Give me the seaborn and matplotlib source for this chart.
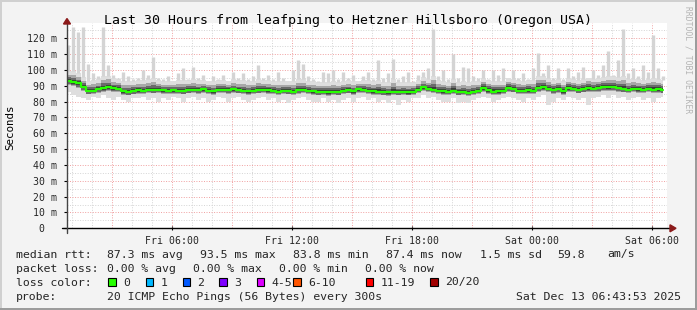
import numpy as np
import pandas as pd
import matplotlib
matplotlib.use("Agg")
import matplotlib.pyplot as plt
import matplotlib.dates as mdates
from matplotlib.patches import Rectangle, Polygon
from matplotlib.lines import Line2D
import seaborn as sns

# ---------------- data ----------------
title = "Last 30 Hours from leafping to Hetzner Hillsboro (Oregon USA)"
start_time = "2025-12-12 00:48"          # first 15-min bin centre
x_start = "2025-12-12 00:43:53"
x_end = "2025-12-13 06:43:53"

median_ms = [93.3, 92.5, 91.6, 89.5, 86.8, 87.0, 88.1, 88.6, 89.1, 88.5,
             88.3, 86.5, 86.0, 86.8, 87.2, 87.0, 87.6, 87.4, 87.5, 87.2,
             86.9, 87.2, 87.0, 86.8, 87.5, 87.6, 87.3, 87.8, 86.8, 86.5,
             87.5, 87.6, 87.3, 87.8, 87.4, 87.0, 86.5, 87.0, 87.4, 87.6,
             87.2, 86.8, 86.4, 87.0, 86.8, 86.2, 87.3, 87.6, 87.0, 86.5,
             86.0, 86.2, 85.8, 86.4, 86.0, 86.8, 87.4, 86.5, 87.8, 87.5,
             87.0, 86.6, 86.2, 86.0, 85.8, 86.3, 86.0, 86.4, 85.9, 86.2,
             87.5, 89.0, 88.2, 87.5, 87.0, 86.6, 86.2, 86.8, 86.0, 86.4,
             85.6, 86.2, 86.8, 88.5, 87.2, 86.4, 86.6, 86.8, 88.6, 88.0,
             87.0, 86.8, 87.2, 87.0, 88.6, 89.2, 88.2, 87.6, 88.0, 86.5,
             88.6, 88.2, 87.4, 88.0, 88.5, 88.2, 88.8, 89.3, 89.0, 89.4,
             88.6, 88.0, 87.6, 88.2, 87.8, 87.5, 88.2, 87.6, 87.9, 87.4]

max_ms = [116, 127, 124, 127, 104, 98, 96, 127, 103, 97,
          95, 99, 96, 94, 95, 100, 97, 108, 95, 94,
          96, 93, 98, 101, 94, 102, 95, 97, 93, 96,
          94, 97, 93, 99, 95, 98, 94, 96, 103, 95,
          97, 94, 99, 95, 93, 100, 106, 104, 96, 94,
          93, 99, 98, 100, 94, 99, 95, 97, 93, 96,
          99, 94, 106, 95, 98, 107, 94, 96, 99, 93,
          97, 99, 101, 126, 96, 100, 94, 110, 95, 102,
          101, 96, 95, 100, 94, 100, 97, 101, 95, 100,
          95, 98, 94, 101, 111, 98, 103, 95, 101, 94,
          101, 96, 99, 102, 95, 100, 97, 103, 112, 97,
          106, 126, 98, 101, 96, 103, 99, 122, 101, 96]

min_ms = [86, 84, 83, 82, 81, 83, 82, 84, 82, 81,
          83, 81, 80, 82, 82, 83, 81, 82, 80, 82,
          81, 83, 82, 80, 82, 83, 81, 82, 80, 81,
          83, 82, 80, 82, 83, 81, 80, 81, 82, 83,
          81, 82, 80, 81, 79, 81, 82, 83, 81, 80,
          80, 82, 80, 81, 79, 81, 82, 80, 82, 83,
          81, 82, 80, 81, 79, 81, 78, 81, 80, 82,
          82, 84, 82, 83, 81, 80, 80, 82, 79, 80,
          79, 81, 82, 83, 82, 80, 81, 82, 83, 82,
          81, 80, 82, 81, 83, 84, 78, 80, 82, 81,
          83, 82, 81, 82, 78, 82, 83, 84, 82, 84,
          82, 83, 81, 82, 83, 81, 82, 80, 82, 83]

q25_ms = [90.5, 89.8, 88.6, 86.9, 84.6, 84.8, 85.7, 86.0, 86.5, 86.1,
          85.8, 84.3, 83.9, 84.6, 85.0, 84.9, 85.3, 85.2, 85.3, 85.0,
          84.8, 85.0, 84.8, 84.6, 85.2, 85.3, 85.1, 85.5, 84.7, 84.4,
          85.3, 85.4, 85.1, 85.5, 85.2, 84.9, 84.4, 84.8, 85.2, 85.4,
          85.0, 84.7, 84.3, 84.8, 84.6, 84.1, 85.1, 85.4, 84.9, 84.4,
          84.0, 84.1, 83.8, 84.3, 84.0, 84.7, 85.2, 84.4, 85.5, 85.3,
          84.9, 84.5, 84.1, 84.0, 83.8, 84.2, 83.9, 84.3, 83.9, 84.1,
          85.3, 86.6, 85.9, 85.3, 84.9, 84.5, 84.1, 84.7, 83.9, 84.3,
          83.6, 84.1, 84.7, 86.2, 85.0, 84.3, 84.5, 84.7, 86.3, 85.8,
          84.9, 84.7, 85.0, 84.9, 86.3, 86.8, 85.9, 85.0, 85.7, 84.3,
          86.2, 85.9, 85.2, 85.8, 86.0, 85.9, 86.4, 86.9, 86.7, 87.0,
          86.3, 85.8, 85.4, 85.9, 85.6, 85.3, 85.9, 85.4, 85.7, 85.2]

q75_ms = [97.0, 96.8, 95.5, 93.0, 90.8, 91.0, 91.6, 93.5, 94.0, 92.3,
          92.0, 90.4, 90.5, 90.6, 90.9, 91.2, 91.5, 92.4, 91.2, 90.8,
          90.6, 90.8, 91.0, 91.2, 91.0, 91.8, 90.9, 91.4, 90.4, 90.4,
          91.0, 91.2, 90.8, 91.5, 91.0, 91.2, 90.4, 90.6, 92.0, 91.4,
          90.9, 90.5, 90.4, 90.8, 90.6, 90.5, 92.0, 91.8, 90.8, 90.3,
          89.9, 90.2, 90.0, 90.6, 90.0, 90.6, 91.0, 90.4, 91.4, 91.2,
          91.0, 90.4, 91.4, 89.9, 89.8, 91.5, 89.8, 90.2, 89.8, 90.1,
          91.3, 92.8, 92.0, 93.5, 90.9, 90.6, 90.0, 92.0, 89.8, 90.6,
          89.6, 90.4, 90.7, 92.4, 91.3, 90.8, 90.6, 90.8, 92.4, 91.9,
          90.9, 90.6, 91.2, 91.0, 93.6, 93.5, 92.2, 91.4, 92.0, 90.6,
          92.4, 92.0, 91.3, 92.0, 92.8, 92.1, 92.6, 93.0, 93.6, 93.5,
          92.8, 93.4, 91.8, 92.1, 91.7, 91.4, 92.0, 92.4, 91.8, 91.3]

y_ticks = [0, 10, 20, 30, 40, 50, 60, 70, 80, 90, 100, 110, 120]
y_tick_labels = ["0  "] + [f"{v} m" for v in y_ticks[1:]]

rtt_items = ["87.3 ms avg", "93.5 ms max", "83.8 ms min", "87.4 ms now",
             "1.5 ms sd", "59.8", "am/s"]
loss_items = ["0.00 % avg", "0.00 % max", "0.00 % min", "0.00 % now"]
loss_labels = ["0", "1", "2", "3", "4-5", "6-10", "11-19", "20/20"]
loss_colors = ["#26ff00", "#00b8ff", "#0059ff", "#7e00ff", "#dd00ff",
               "#ff5500", "#ff0000", "#a10000"]
probe_text = "20 ICMP Echo Pings (56 Bytes) every 300s"
stamp_text = "Sat Dec 13 06:43:53 2025"

# ---------------- figure ----------------
sns.set_theme(style="white")
plt.rcParams["font.family"] = ["DejaVu Sans Mono", "DejaVu Sans"]

W, H = 697, 310
fig = plt.figure(figsize=(W / 100, H / 100), dpi=100, facecolor="#f3f3f3")


def fx(px):
    return px / W


def fy(py):
    return 1 - py / H


AX_L, AX_R, AX_B, AX_T = 67, 667, 228.3, 22.5
ax = fig.add_axes([fx(AX_L), fy(AX_B), (AX_R - AX_L) / W, (AX_B - AX_T) / H])
ax.set_facecolor("white")

times = pd.date_range(start_time, periods=len(median_ms), freq="15min")
df = pd.DataFrame({"time": times, "median": median_ms, "lo": min_ms,
                   "q25": q25_ms, "q75": q75_ms, "hi": max_ms})

ax.set_xlim(pd.Timestamp(x_start), pd.Timestamp(x_end))
ax.set_ylim(0, 130)

# grid (drawn under the smoke)
hours = pd.date_range("2025-12-12 01:00", "2025-12-13 06:00", freq="1h")
for h in hours:
    red = (h.hour % 3 == 0)
    ax.axvline(h, color="#f0a0a0" if red else "#d4d4d4", lw=0.7,
               ls=(0, (1, 1.6)), zorder=1)
for v in range(5, 130, 5):
    red = (v % 10 == 0)
    ax.axhline(v, color="#f0a0a0" if red else "#d4d4d4", lw=0.7,
               ls=(0, (1, 1.6)), zorder=1)

# smoke
lo = df["lo"].to_numpy(float)
hi = df["hi"].to_numpy(float)
med = df["median"].to_numpy()
q25 = df["q25"].to_numpy()
q75 = df["q75"].to_numpy()
base_top = np.minimum(hi, q75 + 2.5)
ax.fill_between(df["time"], lo, base_top, step="mid",
                color="#dedede", lw=0, zorder=2)
ax.vlines(df["time"], base_top, hi, colors="#d4d4d4", lw=2.4, zorder=2)
ax.fill_between(df["time"], q25, q75, step="mid",
                color="#a8a8a8", lw=0, zorder=3)
ax.fill_between(df["time"], med - 0.75 * (med - q25), med + 0.6 * (q75 - med),
                step="mid", color="#6a6a6a", lw=0, zorder=4)
ax.fill_between(df["time"], med - 0.4 * (med - q25), med + 0.3 * (q75 - med),
                step="mid", color="#3a3a3a", lw=0, zorder=4)

sns.lineplot(data=df, x="time", y="median", ax=ax, color="#26ff00",
             lw=1.6, drawstyle="steps-mid", estimator=None, zorder=5)

# axes styling
for s in ax.spines.values():
    s.set_visible(False)
ax.set_xlabel("")
ax.set_ylabel("")
ax.set_yticks(y_ticks)
ax.set_yticklabels(y_tick_labels, fontsize=7.1, family="DejaVu Sans Mono")
ax.tick_params(axis="y", length=2, width=0.8, color="black", pad=5,
               direction="out", left=True)
ax.xaxis.set_major_locator(mdates.HourLocator(byhour=[0, 6, 12, 18]))
ax.xaxis.set_major_formatter(mdates.DateFormatter("%a %H:%M"))
ax.tick_params(axis="x", length=3, width=0.8, color="black", pad=4,
               direction="inout", bottom=True, labelsize=7.1)
for lab in ax.get_xticklabels():
    lab.set_family("DejaVu Sans Mono")
ax.grid(False)

# axis lines with arrows
fig.add_artist(Line2D([fx(62), fx(671)], [fy(AX_B), fy(AX_B)],
                      color="black", lw=1, zorder=10))
fig.add_artist(Polygon([[fx(670), fy(AX_B - 3.5)], [fx(670), fy(AX_B + 3.5)],
                        [fx(676), fy(AX_B)]], closed=True,
                       color="#8b1a1a", zorder=11))
fig.add_artist(Line2D([fx(AX_L), fx(AX_L)], [fy(233), fy(24)],
                      color="#444444", lw=1, zorder=10))
fig.add_artist(Polygon([[fx(AX_L - 3.5), fy(24)], [fx(AX_L + 3.5), fy(24)],
                        [fx(AX_L), fy(18.5)]], closed=True,
                       color="#8b1a1a", zorder=11))

# title, axis label, watermark
fig.text(fx(347.5), fy(24), title, ha="center", va="baseline",
         fontsize=9.5, color="black")
fig.text(fx(10.5), fy(127), "Seconds", rotation=90, ha="center", va="center",
         fontsize=7.8, color="black")
fig.text(fx(688), fy(60), "RRDTOOL / TOBI OETIKER", rotation=270,
         ha="center", va="center", fontsize=5.8, color="#b4b4b4")

# legend
LF = 8.25
rows = [257.5, 271.5, 285.5, 299.5]
fig.text(fx(16), fy(rows[0]), "median rtt:", fontsize=LF, va="baseline")
for txt, xp in zip(rtt_items, [107.3, 200, 292.7, 386.3, 479.7, 557.7, 607]):
    fig.text(fx(xp), fy(rows[0]), txt, fontsize=LF, va="baseline")
fig.text(fx(16), fy(rows[1]), "packet loss:", fontsize=LF, va="baseline")
for txt, xp in zip(loss_items, [107.3, 193.3, 279.3, 365.3]):
    fig.text(fx(xp), fy(rows[1]), txt, fontsize=LF, va="baseline")
fig.text(fx(16), fy(rows[2]), "loss color:", fontsize=LF, va="baseline")
box_x = [108.3, 145.7, 182.7, 219.3, 256.7, 293.3, 366, 430.3]
for lab, col, bx in zip(loss_labels, loss_colors, box_x):
    fig.add_artist(Rectangle((fx(bx), fy(285.6)), 7.3 / W, 7.3 / H,
                             facecolor=col, edgecolor="black", lw=0.8))
    fig.text(fx(bx + 14.5), fy(rows[2]), lab, fontsize=LF, va="baseline")
fig.text(fx(16), fy(rows[3]), "probe:", fontsize=LF, va="baseline")
fig.text(fx(107.3), fy(rows[3]), probe_text, fontsize=LF, va="baseline")
fig.text(fx(680.5), fy(rows[3]), stamp_text, fontsize=LF, va="baseline",
         ha="right")

# image frame
fig.add_artist(Rectangle((0, fy(2)), 1, 2 / H, color="#d0d0d0", lw=0))
fig.add_artist(Rectangle((0, 0), 2 / W, 1, color="#d0d0d0", lw=0))
fig.add_artist(Rectangle((0, 0), 1, 2 / H, color="#9c9c9c", lw=0))
fig.add_artist(Rectangle((fx(695), 0), 2 / W, 1, color="#9c9c9c", lw=0))

fig.savefig("out.png", dpi=100, facecolor=fig.get_facecolor())
